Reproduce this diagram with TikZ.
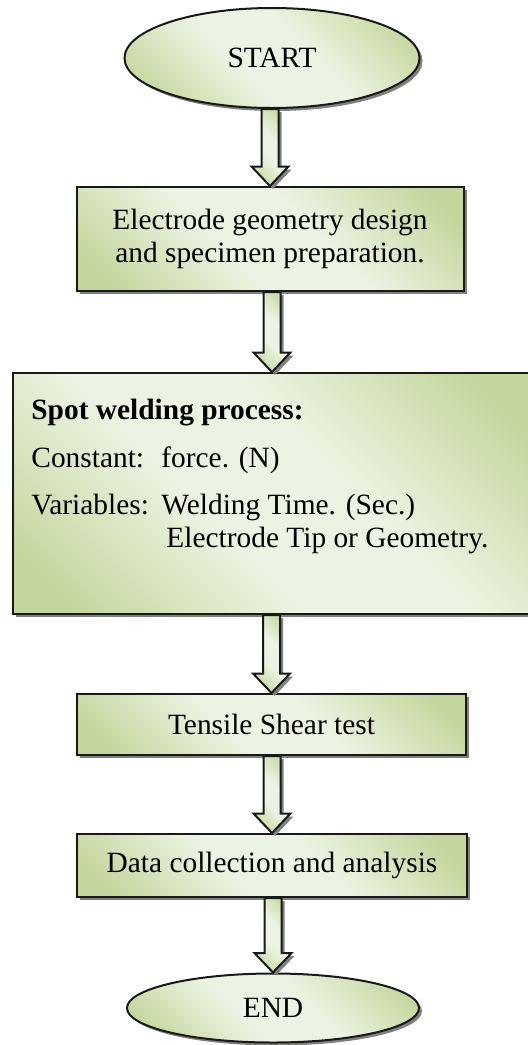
\documentclass[tikz,border=0pt]{standalone}
\usepackage{fontspec}
\setmainfont{Liberation Serif}
\usepackage{tikz}
\usetikzlibrary{shapes.geometric,shadows,calc}

\definecolor{gdark}{HTML}{C3D69B}
\definecolor{glight}{HTML}{EDF3E2}
\definecolor{shadowgray}{HTML}{808080}
\pgfdeclarehorizontalshading{greenband}{100bp}{color(0bp)=(gdark); color(20bp)=(gdark); color(42bp)=(glight); color(58bp)=(glight); color(80bp)=(gdark); color(100bp)=(gdark)}

\newcommand{\arrowshaft}{4.25pt}
\newcommand{\arrowhw}{9.25pt}
\newcommand{\arrowhl}{9.75pt}
\newcommand{\flowarrow}[2]{%
  \draw[blockarrow] ($(#1.south -| #2.north)+(-\arrowshaft,0)$) -- ($(#2.north)+(-\arrowshaft,\arrowhl)$)
    -- ($(#2.north)+(-\arrowhw,\arrowhl)$) -- (#2.north) -- ($(#2.north)+(\arrowhw,\arrowhl)$)
    -- ($(#2.north)+(\arrowshaft,\arrowhl)$) -- ($(#1.south -| #2.north)+(\arrowshaft,0)$) -- cycle;}

\tikzset{
  greenfill/.style={shade, shading=greenband, shading angle=45, draw=black!90, line width=1pt,
    drop shadow={shadow xshift=1.5pt, shadow yshift=-1.5pt, fill=shadowgray, opacity=1}},
  flowfont/.style={font=\fontsize{14.7}{16.5}\selectfont},
  terminal/.style={greenfill, ellipse, inner sep=0pt, flowfont},
  procbox/.style={greenfill, rectangle, inner sep=0pt, align=center, flowfont},
  blockarrow/.style={greenfill, line join=miter}
}

\begin{document}
\begin{tikzpicture}
\useasboundingbox (0,0) rectangle (264pt,-522.5pt);

\node[terminal, minimum width=147.5pt, minimum height=50pt] (start) at (136pt,-29pt) {START};
\node[procbox, minimum width=193.5pt, minimum height=52pt] (design) at (135pt,-119.5pt) {Electrode geometry design\\and specimen preparation.};
\node[procbox, minimum width=259pt, minimum height=120.5pt] (weld) at (136pt,-246.75pt) {};
\node[anchor=base west, align=left, inner sep=0pt, flowfont] (weldtext) at ($(weld.north west)+(9.5pt,-87.5pt)$) {%
\textbf{Spot welding process:}\\[7.5pt]
\makebox[65pt][l]{Constant:}force. (N)\\[7pt]
\makebox[65pt][l]{Variables:}Welding Time. (Sec.)\\
\hspace*{67.5pt}Electrode Tip or Geometry.};
\node[procbox, minimum width=194.5pt, minimum height=30.5pt] (tensile) at (135.75pt,-362.25pt) {Tensile Shear test};
\node[procbox, minimum width=195pt, minimum height=31.5pt] (data) at (136pt,-432.75pt) {Data collection and analysis};
\node[terminal, minimum width=146pt, minimum height=34.5pt] (finish) at (136.5pt,-504pt) {END};

\flowarrow{start}{design}
\flowarrow{design}{weld}
\flowarrow{weld}{tensile}
\flowarrow{tensile}{data}
\flowarrow{data}{finish}
\end{tikzpicture}
\end{document}
